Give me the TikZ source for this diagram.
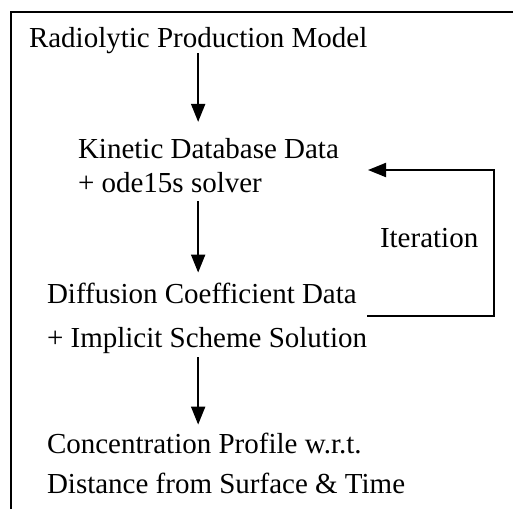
\documentclass[tikz,border=0pt]{standalone}
\usepackage{fontspec}
\setmainfont{Liberation Serif}
\usetikzlibrary{arrows.meta}
\begin{document}
\begin{tikzpicture}[x=1pt,y=-1pt,
  txt/.style={inner sep=0pt,outer sep=0pt,anchor=base west,align=left,font=\fontsize{29}{34}\selectfont},
  arr/.style={line width=2pt,-{Triangle[width=14pt,length=18pt]}},
  ln/.style={line width=2pt}]
\useasboundingbox (0,0) rectangle (513,509);
\draw[ln] (11,509) -- (11,12) -- (513,12);
\node[txt] (rad) at (29,47) {Radiolytic Production Model};
\node[txt,font=\fontsize{29}{34}\selectfont] (kin) at (78,192) {Kinetic Database Data\\+ ode15s solver};
\node[txt,font=\fontsize{29}{44}\selectfont] (dif) at (47,347) {Diffusion Coefficient Data\\+ Implicit Scheme Solution};
\node[txt,font=\fontsize{29}{40}\selectfont] (con) at (47,493) {Concentration Profile w.r.t.\\Distance from Surface \& Time};
\node[txt] (it) at (380,247) {Iteration};
\draw[arr] (rad.south) -- ([yshift=16pt]kin.north -| rad.south);
\draw[arr] ([yshift=-9pt]kin.south -| rad.south) -- ([yshift=10pt]dif.north -| rad.south);
\draw[arr] ([yshift=-4pt]dif.south -| rad.south) -- ([yshift=8pt]con.north -| rad.south);
\coordinate (l2) at (494,316);
\coordinate (l3) at (494,170);
\coordinate (l4) at (368,170);
\draw[arr] (dif.east |- l2) -- (l2) -- (l3) -- (l4);
\end{tikzpicture}
\end{document}
